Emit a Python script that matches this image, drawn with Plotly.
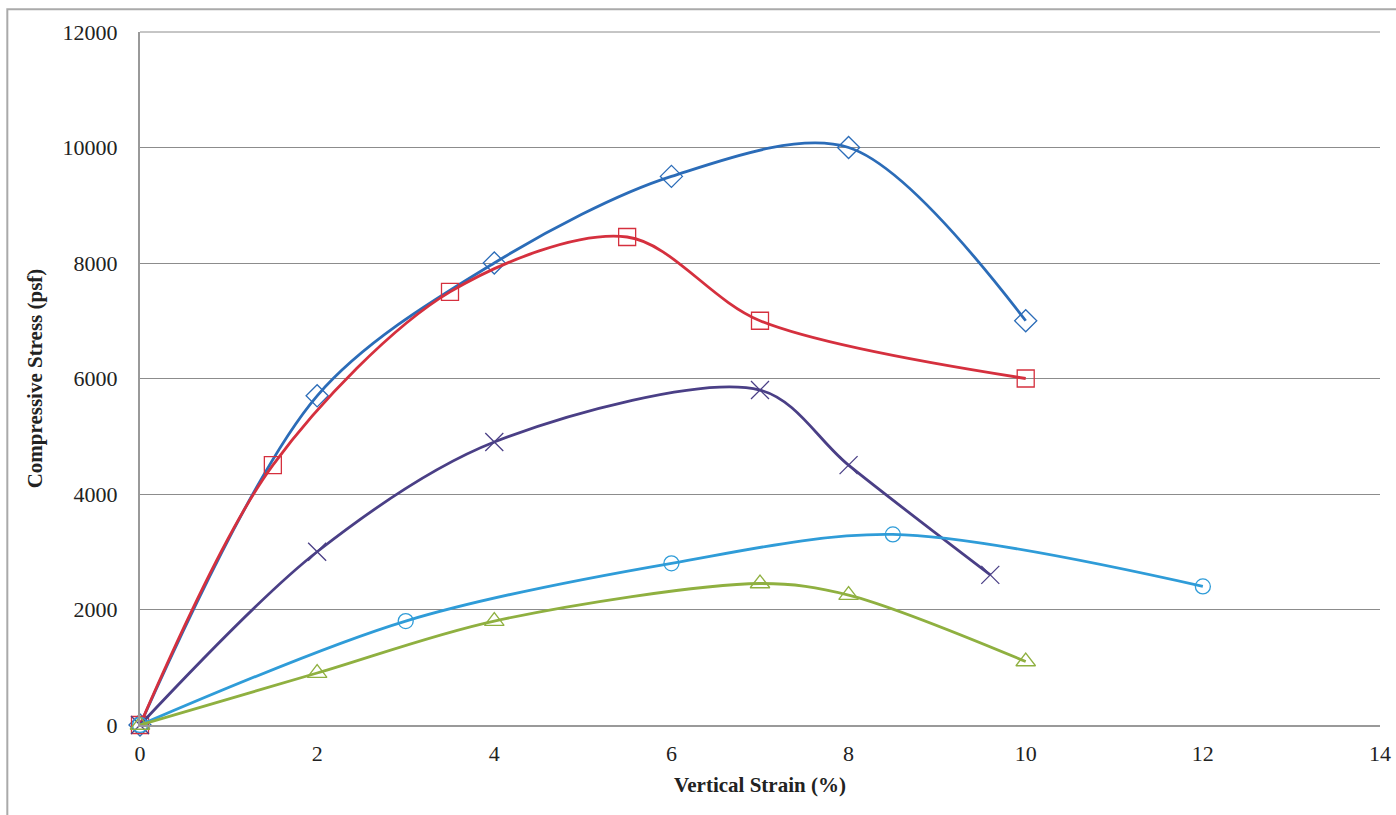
import plotly.graph_objects as go

# Data
s1_x = [0, 2, 4, 6, 8, 10]
s1_y = [0, 5700, 8000, 9500, 10000, 7000]

s2_x = [0, 1.5, 3.5, 5.5, 7, 10]
s2_y = [0, 4500, 7500, 8450, 7000, 6000]

s3_x = [0, 2, 4, 7, 8, 9.6]
s3_y = [0, 3000, 4900, 5800, 4500, 2600]

s4_x = [0, 3, 6, 8.5, 12]
s4_y = [0, 1800, 2800, 3300, 2400]

s5_x = [0, 2, 4, 7, 8, 10]
s5_y = [0, 900, 1800, 2450, 2250, 1100]

x_ticks = [0, 2, 4, 6, 8, 10, 12, 14]
y_ticks = [0, 2000, 4000, 6000, 8000, 10000, 12000]
y_ticktext = ["0", "2000", "4000", "6000", "8000", "10000", "12000"]

series = [
    (s1_x, s1_y, "#2b6cb8", "diamond-open", 17),
    (s2_x, s2_y, "#d5303e", "square-open", 17),
    (s3_x, s3_y, "#4a3f86", "x-thin-open", 18),
    (s4_x, s4_y, "#2f9cd8", "circle-open", 15),
    (s5_x, s5_y, "#8fb040", "triangle-up-open", 17),
]

fig = go.Figure()
for xs, ys, col, sym, sz in series:
    fig.add_trace(go.Scatter(
        x=xs, y=ys, mode="lines+markers",
        line=dict(color=col, width=2.8, shape="spline", smoothing=0.9),
        marker=dict(symbol=sym, size=sz, color=col, line=dict(color=col, width=1.3)),
        showlegend=False, cliponaxis=False,
    ))

serif = "Liberation Serif, DejaVu Serif, serif"
fig.update_layout(
    width=1396, height=815,
    margin=dict(l=140, r=16, t=32, b=90, autoexpand=False),
    paper_bgcolor="white", plot_bgcolor="white",
    font=dict(family=serif, color="#222222", size=22),
    xaxis=dict(
        range=[0, 14], tickvals=x_ticks, showgrid=False, zeroline=False,
        showline=True, linecolor="#999999", linewidth=2, automargin=False,
        ticks="", ticklabelstandoff=8,
        tickfont=dict(family=serif, size=22),
        title=dict(text="<b>Vertical Strain (%)</b>", font=dict(family=serif, size=21), standoff=12),
    ),
    yaxis=dict(
        range=[0, 12000], tickvals=y_ticks, ticktext=y_ticktext,
        showgrid=True, gridcolor="#8c8c8c", gridwidth=1, automargin=False,
        zeroline=False, showline=True, linecolor="#999999", linewidth=2,
        ticks="", ticklabelstandoff=16,
        tickfont=dict(family=serif, size=22),
        title=dict(text="<b>Compressive Stress (psf)</b>", font=dict(family=serif, size=21), standoff=14),
    ),
    shapes=[
        dict(type="line", xref="paper", yref="paper", x0=0, x1=1, y0=1, y1=1,
             line=dict(color="#8c8c8c", width=1)),
        dict(type="rect", xref="paper", yref="paper", x0=-0.107, x1=1.05, y0=-0.3, y1=1.033,
             line=dict(color="#aaaaaa", width=2), layer="below"),
    ],
)

fig.write_html(
    "out.html",
    config={"displayModeBar": False},
    post_script="document.body.style.margin='0';document.body.style.overflow='hidden';",
)
